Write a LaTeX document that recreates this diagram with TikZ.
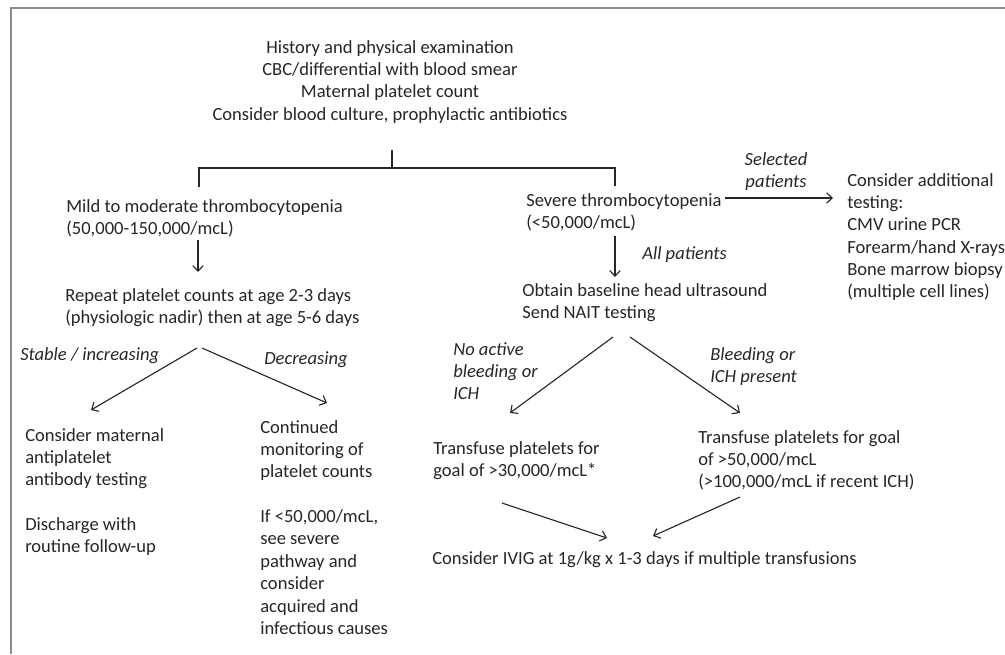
\documentclass[tikz,border=0pt]{standalone}
\usepackage{fontspec}
\setmainfont{Carlito}
\usepackage{xcolor}
\colorlet{ink}{black!85}
\colorlet{framegray}{black!45}
\usetikzlibrary{arrows.meta}
\tikzset{
  txt/.style={inner sep=0pt, anchor=north west, align=left, text=ink,
    font=\fontsize{13.2}{15.9}\selectfont},
  note/.style={txt, font=\fontsize{13.2}{15.9}\selectfont\itshape},
  line/.style={draw=ink, line width=0.8pt},
  arr/.style={line, -{Straight Barb[length=4pt,width=7.5pt]}},
}

\begin{document}
\begin{tikzpicture}[x=0.025cm, y=-0.025cm]
  \useasboundingbox (0,0) rectangle (1005,654);
  \draw[framegray, line width=0.9pt] (1005,8) -- (11,8) -- (11,654);

  % text blocks
  \node[txt, anchor=north, align=center] (hist) at (390,40)
    {History and physical examination\\CBC/differential with blood smear\\Maternal platelet count\\Consider blood culture, prophylactic antibiotics};
  \node[txt] (mild) at (66,199) {Mild to moderate thrombocytopenia\\(50,000-150,000/mcL)};
  \node[txt] (severe) at (526,193) {Severe thrombocytopenia\\(<50,000/mcL)};
  \node[txt] (addl) at (847,173)
    {Consider additional\\testing:\\CMV urine PCR\\Forearm/hand X-rays\\Bone marrow biopsy\\(multiple cell lines)};
  \node[txt] (repeat) at (65,288) {Repeat platelet counts at age 2-3 days\\(physiologic nadir) then at age 5-6 days};
  \node[txt] (obtain) at (522,283) {Obtain baseline head ultrasound\\Send NAIT testing};
  \node[txt] (matern) at (25,428)
    {Consider maternal\\antiplatelet\\antibody testing\\[15.9pt]Discharge with\\routine follow-up};
  \node[txt] (monitor) at (260,420)
    {Continued\\monitoring of\\platelet counts\\[15.9pt]If <50,000/mcL,\\see severe\\pathway and\\consider\\acquired and\\infectious causes};
  \node[txt] (trans30) at (433,441) {Transfuse platelets for\\goal of >30,000/mcL*};
  \node[txt] (trans50) at (698,430)
    {Transfuse platelets for goal\\of >50,000/mcL\\(>100,000/mcL if recent ICH)};
  \node[txt] (ivig) at (432,551) {Consider IVIG at 1g/kg x 1-3 days if multiple transfusions};

  % branch labels
  \node[note, anchor=north, align=center] (selected) at (776,152) {Selected\\patients};
  \node[note] (allpat) at (642,246) {All patients};
  \node[note] (stable) at (20,347) {Stable / increasing};
  \node[note] (decr) at (264,351) {Decreasing};
  \node[note] (nobleed) at (453,342) {No active\\bleeding or\\ICH};
  \node[note] (bleed) at (710,347) {Bleeding or\\ICH present};

  % split under the first block
  \coordinate (split) at (392,168);
  \draw[line] (392,150) -- (split);
  \draw[line] (199,187) -- (199,168) -- (615,168) -- (615,186);

  % arrows
  \coordinate (m1) at (198,240);  \coordinate (m2) at (198,272);
  \coordinate (s1) at (725,198);  \coordinate (s2) at (833,198);
  \coordinate (a1) at (615,236);  \coordinate (a2) at (615,277);
  \coordinate (r1) at (197,348);  \coordinate (r2) at (91,410);
  \coordinate (r3) at (202,348);  \coordinate (r4) at (327,403);
  \coordinate (o1) at (613,337);  \coordinate (o2) at (510,413);
  \coordinate (o3) at (630,337);  \coordinate (o4) at (740,413);
  \coordinate (t1) at (502,503);  \coordinate (t2) at (607,538);
  \coordinate (t3) at (740,497);  \coordinate (t4) at (653,536);
  \foreach \p/\q in {m1/m2,s1/s2,a1/a2,r1/r2,r3/r4,o1/o2,o3/o4,t1/t2,t3/t4}
    \draw[arr] (\p) -- (\q);
\end{tikzpicture}
\end{document}
